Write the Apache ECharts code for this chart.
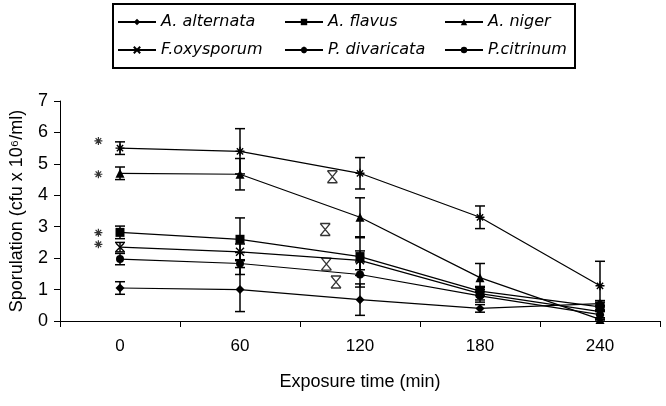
<!DOCTYPE html>
<html>
<head>
<meta charset="utf-8">
<script src="https://cdn.jsdelivr.net/npm/echarts@6/dist/echarts.min.js"></script>
<style>
html,body{margin:0;padding:0;background:#fff;}
#main{width:666px;height:406px;}
</style>
</head>
<body>
<div id="main"></div>
<script>
var times = ['0', '60', '120', '180', '240'];
var yTicks = [0, 1, 2, 3, 4, 5, 6, 7];

var alternata = [1.05, 1.0, 0.68, 0.4, 0.55];
var alternataErr = [0.2, 0.7, 0.5, 0.12, 0.1];
var flavus = [2.82, 2.6, 2.05, 0.95, 0.45];
var flavusErr = [0.2, 0.68, 0.6, 0.15, 0.15];
var niger = [4.7, 4.67, 3.3, 1.38, 0.05];
var nigerErr = [0.2, 0.5, 0.62, 0.45, 0.05];
var oxysporum = [2.35, 2.2, 1.93, 0.87, 0.3];
var oxysporumErr = [0.15, 0.25, 0.3, 0.2, 0.2];
var divaricata = [5.5, 5.4, 4.7, 3.3, 1.12];
var divaricataErr = [0.2, 0.72, 0.5, 0.36, 0.78];
var citrinum = [1.97, 1.83, 1.48, 0.8, 0.2];
var citrinumErr = [0.18, 0.35, 0.4, 0.2, 0.15];

// significance asterisks next to t=0 (x in category index units)
var starX = [-0.18, -0.18, -0.18, -0.18];
var starY = [5.73, 4.67, 2.81, 2.44];
// stray error-bar glyphs between 60 and 120
var strayX = [1.77, 1.71, 1.72, 1.8];
var strayY = [4.59, 2.91, 1.81, 1.24];

var crossPath = 'path://M0,0L10,10M10,0L0,10';
var starPath = 'path://M0,5L10,5M5,0L5,10M1.5,1.5L8.5,8.5M8.5,1.5L1.5,8.5';
var hourglassPath = 'path://M0,0L10,0M0,12L10,12M0,0L10,12M10,0L0,12';

var myChart = echarts.init(document.getElementById('main'));

function errData(vals, errs){
	var out = [];
	for(var i = 0; i < vals.length; i++){
		out.push([i, Math.max(0, vals[i] - errs[i]), vals[i] + errs[i]]);
	}
	return out;
}

function renderErrorBar(params, api){
	var x = api.value(0);
	var p1 = api.coord([x, api.value(2)]);
	var p2 = api.coord([x, api.value(1)]);
	var w = 5;
	var st = {stroke: '#000', lineWidth: 1.5};
	return {
		type: 'group',
		children: [
			{type: 'line', shape: {x1: p1[0], y1: p1[1], x2: p2[0], y2: p2[1]}, style: st},
			{type: 'line', shape: {x1: p1[0] - w, y1: p1[1], x2: p1[0] + w, y2: p1[1]}, style: st},
			{type: 'line', shape: {x1: p2[0] - w, y1: p2[1], x2: p2[0] + w, y2: p2[1]}, style: st}
		]
	};
}

function lineSeries(name, data, symbol, size, stroke){
	return {
		name: name,
		type: 'line',
		data: data,
		symbol: symbol,
		symbolSize: size,
		lineStyle: {color: '#000', width: 1.2},
		itemStyle: {color: '#000', borderColor: '#000', borderWidth: stroke ? 1.4 : 0},
		z: 3
	};
}

function errSeries(vals, errs){
	return {
		type: 'custom',
		renderItem: renderErrorBar,
		data: errData(vals, errs),
		encode: {x: 0, y: [1, 2]},
		z: 2
	};
}

function pairs(xs, ys){
	var out = [];
	for(var i = 0; i < xs.length; i++) out.push([xs[i], ys[i]]);
	return out;
}

var legendText = {fontFamily: 'DejaVu Sans', fontSize: 16, fontStyle: 'italic', color: '#000'};
function legendCol(left, names){
	return {
		orient: 'vertical', left: left, top: 14, padding: 0,
		itemWidth: 38, itemHeight: 8, itemGap: 12,
		textStyle: legendText,
		data: names
	};
}

var option = {
	backgroundColor: '#fff',
	animation: false,
	grid: {left: 55, right: 6, top: 101, bottom: 85},
	legend: [
		legendCol(117, ['A. alternata', 'F.oxysporum']),
		legendCol(284, ['A. flavus', 'P. divaricata']),
		legendCol(444, ['A. niger', 'P.citrinum'])
	],
	graphic: [{
		type: 'rect',
		shape: {x: 113, y: 4, width: 462, height: 64},
		style: {fill: 'none', stroke: '#000', lineWidth: 2}
	}],
	xAxis: [{
		type: 'category',
		data: times,
		boundaryGap: true,
		name: 'Exposure time (min)',
		nameLocation: 'middle',
		nameGap: 52,
		nameTextStyle: {fontFamily: 'Liberation Sans', fontSize: 18, color: '#000'},
		axisLine: {onZero: false, lineStyle: {color: '#000', width: 1}},
		axisTick: {show: true, inside: false, length: 6, lineStyle: {color: '#000'}},
		axisLabel: {fontFamily: 'Liberation Sans', fontSize: 17, color: '#000', margin: 17},
		splitLine: {show: false}
	}, {
		type: 'value',
		min: -0.5,
		max: 4.5,
		show: false
	}],
	yAxis: {
		type: 'value',
		min: yTicks[0],
		max: yTicks[yTicks.length - 1],
		interval: 1,
		name: 'Sporulation (cfu x 10\u2076/ml)',
		nameLocation: 'middle',
		nameGap: 34,
		nameTextStyle: {fontFamily: 'Liberation Sans', fontSize: 18, color: '#000'},
		axisLine: {show: true, onZero: false, lineStyle: {color: '#000', width: 1}},
		axisTick: {show: true, length: 6, lineStyle: {color: '#000'}},
		axisLabel: {fontFamily: 'Liberation Sans', fontSize: 18, color: '#000', margin: 12},
		splitLine: {show: false}
	},
	series: [
		errSeries(alternata, alternataErr),
		errSeries(flavus, flavusErr),
		errSeries(niger, nigerErr),
		errSeries(oxysporum, oxysporumErr),
		errSeries(divaricata, divaricataErr),
		errSeries(citrinum, citrinumErr),
		lineSeries('A. alternata', alternata, 'diamond', 9, false),
		lineSeries('A. flavus', flavus, 'rect', 9, false),
		lineSeries('A. niger', niger, 'triangle', 9, false),
		lineSeries('F.oxysporum', oxysporum, crossPath, 8, true),
		lineSeries('P. divaricata', divaricata, starPath, 9, true),
		lineSeries('P.citrinum', citrinum, 'circle', 8, false),
		{
			type: 'scatter', xAxisIndex: 1,
			data: pairs(starX, starY),
			symbol: starPath, symbolSize: 8,
			itemStyle: {color: '#000', borderColor: '#000', borderWidth: 1.2}
		},
		{
			type: 'scatter', xAxisIndex: 1,
			data: pairs(strayX, strayY),
			symbol: hourglassPath, symbolSize: [10, 12],
			itemStyle: {color: 'rgba(0,0,0,0)', borderColor: '#000', borderWidth: 1.3}
		}
	]
};
myChart.setOption(option);
</script>
</body>
</html>
